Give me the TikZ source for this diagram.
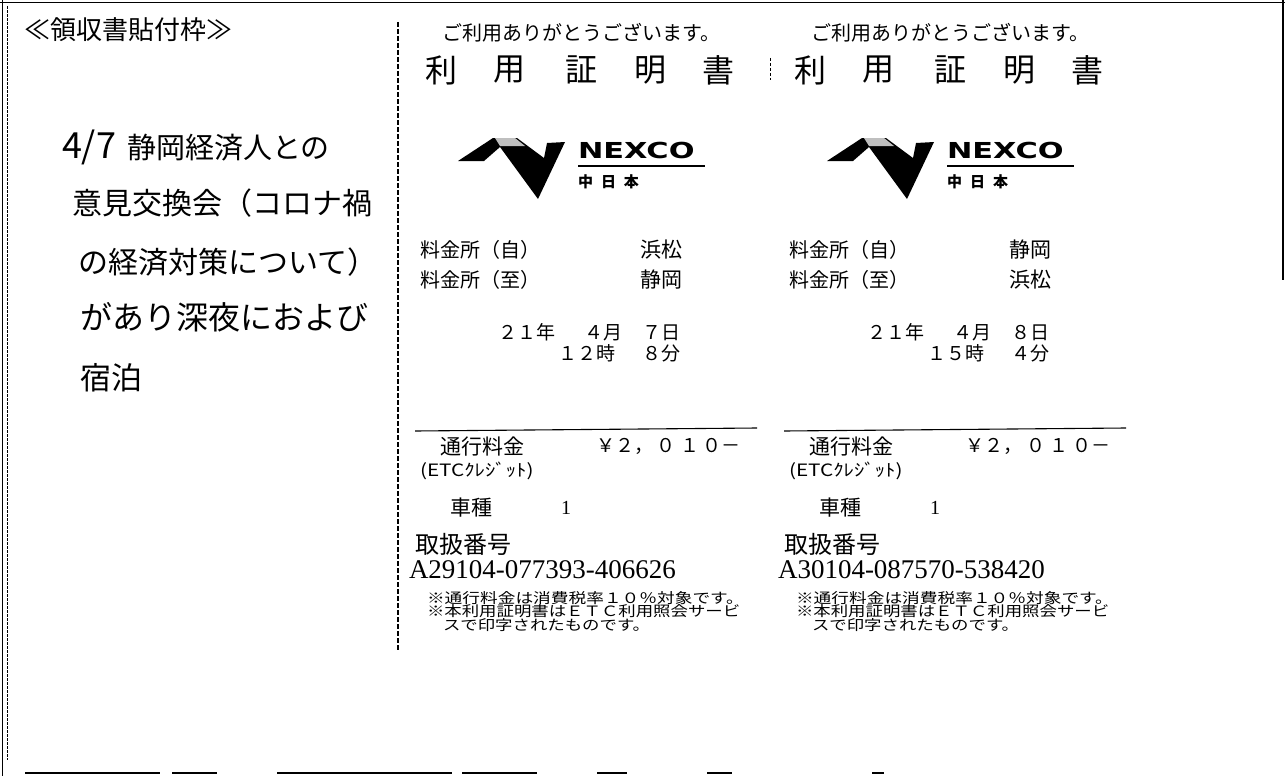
\documentclass[tikz,border=0pt]{standalone}
\usepackage{fontspec}
\usepackage{graphicx}
\setmainfont{Liberation Serif}
\newfontfamily\jp{Noto Sans CJK JP}
\newfontfamily\logofont{DejaVu Sans}
\newcommand\jfs[1]{\fontsize{#1}{#1}\selectfont}
\tikzset{
  txt/.style={inner sep=0pt, outer sep=0pt, anchor=west, font=\jp},
  frameline/.style={line width=1.6pt, black},
  cutline/.style={line width=1.1pt, dash pattern=on 5pt off 2pt},
}
\newcommand\ReceiptCard[9]{%
  % #1 prefix, #2 xshift, #3 from, #4 to, #5 day, #6 hour, #7 minute, #8 number
  \begin{scope}[xshift=#2pt]
    \node[txt] (#1thanks) at (442,33) {\jfs{20}ご利用ありがとうございます。};
    \node[txt, anchor=center] (#1t1) at (441,70) {\jfs{32}利};
    \node[txt, anchor=center] (#1t2) at (509,70) {\jfs{32}用};
    \node[txt, anchor=center] (#1t3) at (581,70) {\jfs{32}証};
    \node[txt, anchor=center] (#1t4) at (650,70) {\jfs{32}明};
    \node[txt, anchor=center] (#1t5) at (718,70) {\jfs{32}書};
    % logo
    \fill[black] (458,161) -- (493,138) -- (517,138) -- (544,158) -- (547,143)
      -- (565,142) -- (538,199) -- (500,147) -- (484,161) -- cycle;
    \fill[gray!50] (495,138) -- (515,138) -- (525,146) -- (500,146) -- cycle;
    \node[txt, font=\logofont\bfseries] (#1nexco) at (578,150) {\jfs{22}\scalebox{1.38}[1]{NEXCO}};
    \draw[line width=1.1pt] (578,166) -- (705,166);
    \node[txt, font=\jp\bfseries] (#1naka) at (578,182) {\jfs{15}中\hspace{8pt}日\hspace{8pt}本};
    % toll gates
    \node[txt] (#1from) at (420,250) {\jfs{20}料金所（自）};
    \node[txt, anchor=east] (#1fromv) at (682,250) {\jfs{21}#3};
    \node[txt] (#1to) at (420,280) {\jfs{20}料金所（至）};
    \node[txt, anchor=east] (#1tov) at (682,280) {\jfs{21}#4};
    \node[txt, anchor=east] (#1date) at (681,332) {\jfs{19}２１年\hspace{30pt}４月\hspace{20pt}#5日};
    \node[txt, anchor=east] (#1time) at (681,353) {\jfs{19}１#6時\hspace{28pt}#7分};
    \draw[line width=1.1pt] (415,431) -- (757,428);
    \node[txt] (#1fee) at (440,447) {\jfs{21}通行料金};
    \node[txt, anchor=east] (#1amount) at (741,446) {\jfs{19}￥２，\hspace{4pt}０\hspace{4pt}１\hspace{4pt}０－};
    \node[txt] (#1etc) at (420,471) {\jfs{17}\scalebox{1.22}[1]{(ETCｸﾚｼﾞｯﾄ)}};
    \node[txt] (#1kind) at (450,508) {\jfs{21}車種};
    \node[txt, font=\rmfamily] (#1kindv) at (561,508) {\jfs{20}1};
    \node[txt] (#1idl) at (415,544) {\jfs{24}取扱番号};
    \node[txt, font=\rmfamily] (#1id) at (409,570) {\jfs{27}#8};
    \node[txt] (#1n1) at (427,598) {\jfs{15}\scalebox{1.18}[0.95]{※通行料金は消費税率１０％対象です。}};
    \node[txt] (#1n2) at (427,611.5) {\jfs{15}\scalebox{1.16}[0.95]{※本利用証明書はＥＴＣ利用照会サービ}};
    \node[txt] (#1n3) at (443,625) {\jfs{15}\scalebox{1.16}[0.95]{スで印字されたものです。}};
  \end{scope}%
}
\begin{document}
\begin{tikzpicture}[x=1pt,y=-1pt]
  \useasboundingbox (0,0) rectangle (1285,776);
  \fill[white] (0,0) rectangle (1285,776);
  % frame
  \draw[frameline] (0,2.5) -- (1285,2.5);
  \draw[frameline] (2.5,0) -- (2.5,776);
  \draw[line width=0.6pt, dash pattern=on 3pt off 1pt] (7,6) -- (7,760);
  \draw[line width=1.3pt] (1283,0) -- (1283,280);
  \draw[line width=1.6pt, dash pattern=on 135pt off 12pt on 45pt off 60pt on 175pt off 10pt on 75pt off 60pt on 30pt off 80pt on 25pt off 140pt on 12pt off 600pt] (25,773) -- (1285,773);
  % paste label
  \node[txt] (label) at (24,30) {\jfs{26}≪領収書貼付枠≫};
  % handwritten memo
  \node[txt] (h0) at (62,147) {\jfs{36}4/7};
  \node[txt] (h1) at (127,148) {\jfs{29}静岡経済人との};
  \node[txt] (h2) at (72,203) {\jfs{30}意見交換会（コロナ禍};
  \node[txt] (h3) at (78,262) {\jfs{30}の経済対策について）};
  \node[txt] (h4) at (80,317) {\jfs{32}があり深夜におよび};
  \node[txt] (h5) at (80,378) {\jfs{31}宿泊};
  % cut lines
  \draw[cutline] (398,22) -- (398,650);
  \draw[line width=0.8pt, dash pattern=on 3pt off 2pt] (770,58) -- (770,80);
  % receipts
  \ReceiptCard{a}{0}{浜松}{静岡}{７}{２}{８}{A29104-077393-406626}{}
  \ReceiptCard{b}{369}{静岡}{浜松}{８}{５}{４}{A30104-087570-538420}{}
\end{tikzpicture}
\end{document}
